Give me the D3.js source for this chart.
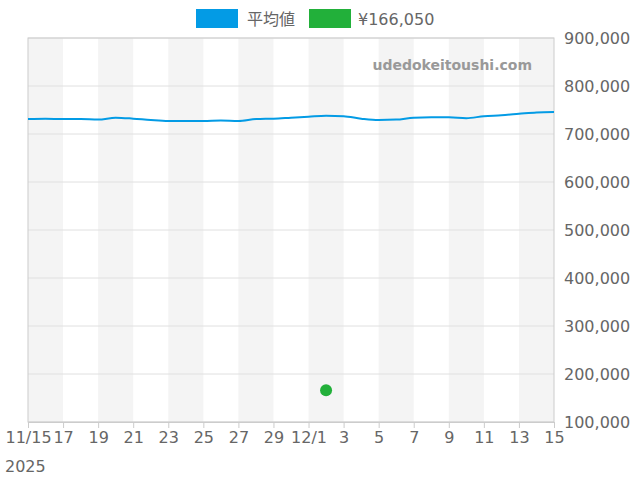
<!DOCTYPE html>
<html>
<head>
<meta charset="UTF-8">
<script src="https://d3js.org/d3.v7.min.js"></script>
<style>body{margin:0;background:#fff;font-family:"DejaVu Sans",sans-serif;}</style>
</head>
<body>
<div id="chart"></div>
<script>
// daily average price, 2025-11-15 .. 2025-12-15
const avgValues = [731000,732000,731000,731000,730000,734000,732000,729000,727000,727000,727000,728000,727000,731000,732000,734000,736000,738000,737000,732000,729000,730000,734000,735000,735000,733000,737000,739000,742000,745000,746000];
const pointDate = "2025-12-02";
const pointValue = 166050;
const yTicks = [100000,200000,300000,400000,500000,600000,700000,800000,900000];
const xTickLabels = ["11/15","17","19","21","23","25","27","29","12/1","3","5","7","9","11","13","15"];

const start = new Date(2025,10,15);
const day = 864e5;
const avgData = avgValues.map((v,i)=>({d:new Date(start.getTime()+i*day), v}));

const W=640,H=480, m={top:38,right:86,bottom:58,left:28};
const w=W-m.left-m.right, h=H-m.top-m.bottom;
const svg=d3.select("#chart").append("svg").attr("width",W).attr("height",H);
const g=svg.append("g").attr("transform",`translate(${m.left},${m.top})`);

const x=d3.scaleTime().domain([start,new Date(2025,11,15)]).range([0,w]);
const y=d3.scaleLinear().domain([100000,900000]).range([h,0]);

// alternating bands
for(let i=0;i<30;i+=4){
  const a=new Date(start.getTime()+i*day), b=new Date(start.getTime()+(i+2)*day);
  g.append("rect").attr("x",x(a)).attr("y",0).attr("width",x(b)-x(a)).attr("height",h).attr("fill","#f4f4f4");
}
// grid
g.selectAll(".gl").data(yTicks).enter().append("line")
 .attr("x1",0).attr("x2",w).attr("y1",d=>y(d)).attr("y2",d=>y(d)).attr("stroke","#e0e0e0");
g.append("rect").attr("width",w).attr("height",h).attr("fill","none").attr("stroke","#ccc");

// y axis right
const ya=g.append("g").attr("transform",`translate(${w},0)`)
 .call(d3.axisRight(y).tickValues(yTicks).tickFormat(d3.format(",")).tickSize(0).tickPadding(10));
ya.select(".domain").remove();
ya.selectAll("text").attr("fill","#666").style("font-size","16px").style("font-family","DejaVu Sans");

// x axis
const xTickDates=xTickLabels.map((_,i)=>new Date(start.getTime()+i*2*day));
const xa=g.append("g").attr("transform",`translate(0,${h})`)
 .call(d3.axisBottom(x).tickValues(xTickDates).tickFormat((d,i)=>xTickLabels[i]).tickSize(6).tickPadding(4));
xa.select(".domain").attr("stroke","#ccc");
xa.selectAll("line").attr("stroke","#ccc");
xa.selectAll("text").attr("fill","#666").style("font-size","16px").style("font-family","DejaVu Sans");
g.append("text").attr("x",-23).attr("y",h+50).text("2025").attr("fill","#666").style("font-size","16px");

// watermark
g.append("text").attr("x",w-22).attr("y",32).attr("text-anchor","end").text("udedokeitoushi.com")
 .attr("fill","#999").style("font-size","14px").style("font-weight","bold");

// line
g.append("path").datum(avgData).attr("fill","none").attr("stroke","#039be5").attr("stroke-width",2)
 .attr("d",d3.line().x(d=>x(d.d)).y(d=>y(d.v)).curve(d3.curveMonotoneX));

// point
g.append("circle").attr("cx",x(d3.timeParse("%Y-%m-%d")(pointDate))).attr("cy",y(pointValue)).attr("r",6).attr("fill","#22b03a");

// legend
const lg=svg.append("g");
lg.append("rect").attr("x",196).attr("y",9).attr("width",42).attr("height",19).attr("fill","#039be5");
lg.append("text").attr("x",247).attr("y",25).text("平均値").attr("fill","#666").style("font-size","16px").style("font-family","Noto Sans CJK JP");
lg.append("rect").attr("x",309).attr("y",9).attr("width",42).attr("height",19).attr("fill","#22b03a");
lg.append("text").attr("x",358).attr("y",25).text("¥"+d3.format(",")(pointValue)).attr("fill","#666").style("font-size","16px");
</script>
</body>
</html>
